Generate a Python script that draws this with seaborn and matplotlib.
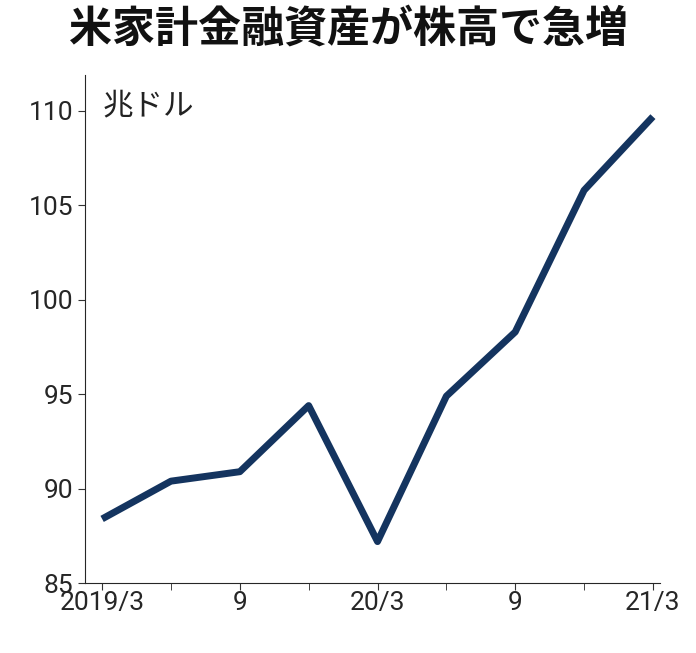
import matplotlib
matplotlib.use("Agg")
import matplotlib.pyplot as plt
import seaborn as sns

quarters = list(range(9))
values = [88.4, 90.4, 90.9, 94.4, 87.2, 94.9, 98.3, 105.8, 109.7]
tick_pos = [0, 2, 4, 6, 8]
tick_labels = ["2019/3", "9", "20/3", "9", "21/3"]

sns.set_style("ticks")
plt.rcParams["font.family"] = ["Noto Sans CJK JP", "DejaVu Sans"]

fig = plt.figure(figsize=(6.96, 6.53), dpi=100)
ax = fig.add_axes([0.122, 0.107, 0.826, 0.778])
sns.lineplot(x=quarters, y=values, ax=ax, color="#14345f", linewidth=5,
             solid_capstyle="butt")

ax.set_xlim(-0.25, 8.1)
ax.set_ylim(85, 111.9)
ax.set_xticks(quarters, minor=True)
ax.set_xticks(tick_pos)
ax.set_xticklabels(tick_labels)
ax.set_yticks([85, 90, 95, 100, 105, 110])
ax.tick_params(axis="both", labelsize=19, color="#333333", length=5)
ax.tick_params(axis="x", which="minor", length=5)
ax.tick_params(axis="x", pad=1)
for lab in ax.get_xticklabels() + ax.get_yticklabels():
    lab.set_fontfamily(["Roboto", "DejaVu Sans"])
    lab.set_fontstretch("condensed")
sns.despine(ax=ax)
ax.set_xlabel("")
ax.set_ylabel("")

ax.text(0.03, 0.97, "兆ドル", transform=ax.transAxes, fontsize=22,
        va="top", ha="left", color="#222222")
fig.text(0.5, 0.99, "米家計金融資産が株高で急増", fontsize=31, fontweight="bold",
         ha="center", va="top", color="#111111")

fig.savefig("out.png", dpi=100)
